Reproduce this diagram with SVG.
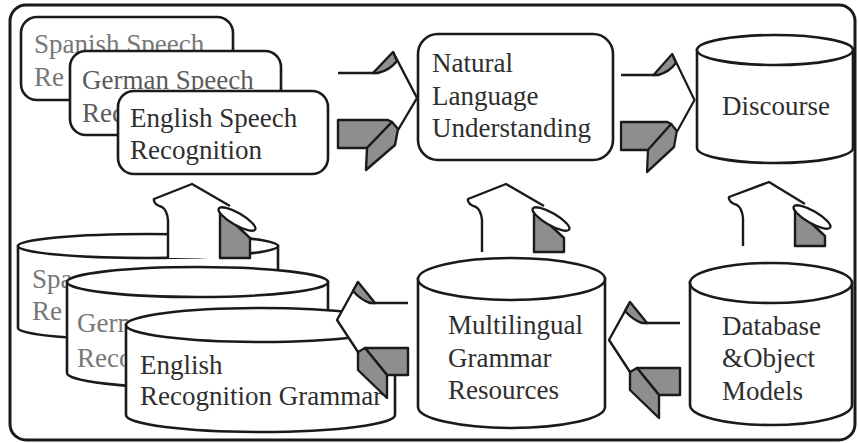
<svg xmlns="http://www.w3.org/2000/svg" width="858" height="443" viewBox="0 0 858 443">
<style>
.box{fill:#fff;stroke:#1a1a1a;stroke-width:2.6}
.frame{fill:#fff;stroke:#1a1a1a;stroke-width:3}
text{font-family:'Liberation Serif','Times New Roman',serif;font-size:27px;fill:#2e2e2e}
.tb{fill:#777}
.tm{fill:#5a5a5a}
.wf{fill:#fff;stroke:none}
.gf{fill:#8e8e8e;stroke:#1a1a1a;stroke-width:2.4;stroke-linejoin:round}
.ln{fill:none;stroke:#1a1a1a;stroke-width:2.4;stroke-linejoin:round}
.curl{fill:#fff;stroke:#1a1a1a;stroke-width:2.4}
</style>
<defs>
<g id="rarrow">
<path class="wf" d="M0,0 L40,0 L59,-12 L79,25 L60,57 L54,49 L0,47 Z"/>
<path class="gf" d="M0,47 L50,47 L54,49 L29,75 L0,75 Z"/>
<path class="gf" d="M54,49 L60,56 L57,72 L28,97 L29,75 Z"/>
<path class="ln" d="M0,0 L37,0 M55,-21 L79,25 L60,57"/>
<path class="gf" d="M35,0 L55,-21 L59,-12 Q52,-3 40,0 Z"/>
</g>
<g id="larrow">
<path class="wf" d="M0,0 L-38,0 L-55,-12 L-71,17 L-50,49 L-43,45 L0,45 Z"/>
<path class="gf" d="M0,45 L-43,45 L-21,72 L0,72 Z"/>
<path class="gf" d="M-43,45 L-50,49 L-50,67 L-21,95 L-21,72 Z"/>
<path class="ln" d="M0,0 L-35,0 M-50,-21 L-71,17 L-50,49"/>
<path class="gf" d="M-33,0 L-50,-21 L-55,-12 Q-47,-3 -38,0 Z"/>
</g>
</defs>
<rect class="frame" x="10" y="5" width="845" height="435" rx="16"/>

<g id="spanish-speech">
<rect class="box" x="21" y="17" width="212" height="83" rx="16"/>
<text class="tb" x="34" y="53">Spanish Speech</text>
<text class="tb" x="34" y="86">Re</text>
</g>
<g id="german-speech">
<rect class="box" x="70" y="51" width="211" height="84" rx="16"/>
<text class="tm" x="82" y="89">German Speech</text>
<text class="tm" x="82" y="122">Rec</text>
</g>
<g id="english-speech">
<rect class="box" x="118" y="91" width="210" height="83" rx="16"/>
<text x="130" y="127">English Speech</text>
<text x="130" y="159">Recognition</text>
</g>
<g id="nlu">
<rect class="box" x="418" y="34" width="195" height="126" rx="20"/>
<text x="432" y="72">Natural</text>
<text x="432" y="105">Language</text>
<text x="432" y="137">Understanding</text>
</g>
<g id="discourse">
<path class="box" d="M697,50 L697,148 A78,15 0 0 0 853,148 L853,50 Z"/>
<ellipse class="box" cx="775" cy="50" rx="78" ry="15"/>
<text x="722" y="115">Discourse</text>
</g>
<g id="spanish-grammar">
<path class="box" d="M18,246 L18,328 A130,12 0 0 0 278,328 L278,246 Z"/>
<ellipse class="box" cx="148" cy="246" rx="130" ry="12"/>
<text class="tb" x="32" y="288">Spa</text>
<text class="tb" x="32" y="320">Re</text>
</g>
<g id="german-grammar">
<path class="box" d="M67,282 L67,373 A130.5,15 0 0 0 328,373 L328,282 Z"/>
<ellipse class="box" cx="197.5" cy="282" rx="130.5" ry="15"/>
<text class="tb" x="77" y="332">Germ</text>
<text class="tb" x="77" y="367">Reco</text>
</g>
<g id="english-grammar">
<path class="box" d="M126,325 L126,415 A134.5,17 0 0 0 395,415 L395,325 Z"/>
<ellipse class="box" cx="260.5" cy="325" rx="134.5" ry="17"/>
<text x="140" y="374">English</text>
<text x="140" y="405">Recognition Grammar</text>
</g>
<g id="multilingual">
<path class="box" d="M418,279 L418,407 A93.5,21 0 0 0 605,407 L605,279 Z"/>
<ellipse class="box" cx="511.5" cy="279" rx="93.5" ry="21"/>
<text x="448" y="334">Multilingual</text>
<text x="448" y="367">Grammar</text>
<text x="448" y="399">Resources</text>
</g>
<g id="database">
<path class="box" d="M690,283 L690,405 A81,20 0 0 0 852,405 L852,283 Z"/>
<ellipse class="box" cx="771" cy="283" rx="81" ry="20"/>
<text x="722" y="335">Database</text>
<text x="722" y="367">&amp;Object</text>
<text x="722" y="400">Models</text>
</g>

<g id="connectors">
<use href="#rarrow" transform="translate(338,73)"/>
<use href="#rarrow" transform="translate(621,75) scale(0.93,1)"/>
<use href="#larrow" transform="translate(408,303)"/>
<use href="#larrow" transform="translate(680,323)"/>
<g transform="translate(168,208)">
<path class="wf" d="M0,50 L0,12 Q-1,2 -6,-1 Q-15,-4 -14,-9 L24,-24 L62,-2 L52,2 L52,50 Z"/>
<path class="gf" d="M52,2 L82,30 L82,50 L52,50 Z"/>
<path class="ln" d="M0,50 L0,12 Q-1,2 -6,-1 Q-15,-4 -14,-9 L24,-24 L62,-2"/>
<ellipse class="curl" cx="69" cy="11" rx="21" ry="6" transform="rotate(30 69 11)"/>
</g>
<g transform="translate(482,208)">
<path class="wf" d="M0,44 L0,12 Q-1,2 -6,-1 Q-15,-4 -14,-9 L24,-24 L62,-2 L52,2 L52,44 Z"/>
<path class="gf" d="M52,2 L82,30 L82,44 L52,44 Z"/>
<path class="ln" d="M0,44 L0,12 Q-1,2 -6,-1 Q-15,-4 -14,-9 L24,-24 L62,-2"/>
<ellipse class="curl" cx="69" cy="11" rx="21" ry="6" transform="rotate(30 69 11)"/>
</g>
<g transform="translate(743,206)">
<path class="wf" d="M0,40 L0,12 Q-1,2 -6,-1 Q-15,-4 -14,-9 L26,-24 L62,-2 L52,2 L52,40 Z"/>
<path class="gf" d="M52,2 L82,30 L82,40 L52,40 Z"/>
<path class="ln" d="M0,40 L0,12 Q-1,2 -6,-1 Q-15,-4 -14,-9 L26,-24 L62,-2"/>
<ellipse class="curl" cx="69" cy="11" rx="21" ry="6" transform="rotate(30 69 11)"/>
</g>
</g>
</svg>
